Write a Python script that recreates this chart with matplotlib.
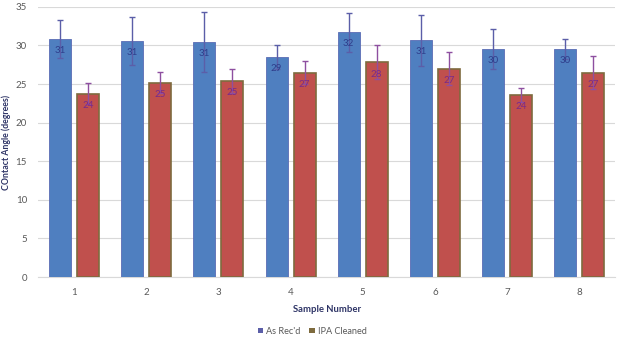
import matplotlib
matplotlib.use("Agg")
import matplotlib.pyplot as plt
import numpy as np
from matplotlib.patches import Patch

plt.rcParams['font.family'] = ['Lato', 'DejaVu Sans']

samples = ["1", "2", "3", "4", "5", "6", "7", "8"]
as_recd = [30.85, 30.55, 30.5, 28.5, 31.7, 30.7, 29.5, 29.6]
as_recd_err = [2.5, 3.1, 3.9, 1.5, 2.5, 3.3, 2.6, 1.3]
ipa = [23.76, 25.2, 25.4, 26.5, 27.8, 27.0, 23.6, 26.5]
ipa_err = [1.4, 1.35, 1.5, 1.5, 2.2, 2.1, 0.9, 2.2]
series_names = ["As Rec'd", "IPA Cleaned"]

fig = plt.figure(figsize=(6.24, 3.45), dpi=100)
ax = fig.add_axes([0.061, 0.197, 0.925, 0.783])

x = np.arange(1, len(samples) + 1)
w = 0.305
off = 0.194

ax.bar(x - off, as_recd, w, color='#4F7FC0', edgecolor='#5A6CB5', linewidth=0.6,
       yerr=as_recd_err, error_kw=dict(ecolor='#5B5EA8', elinewidth=1.0, capsize=2.5, capthick=1.0),
       label=series_names[0], zorder=3)
ax.bar(x + off, ipa, w, color='#C0504D', edgecolor='#7E6B3E', linewidth=1.2,
       yerr=ipa_err, error_kw=dict(ecolor='#8E4FA0', elinewidth=1.0, capsize=2.5, capthick=1.0),
       label=series_names[1], zorder=3)

for xi, v in zip(x - off, as_recd):
    ax.text(xi, v - 1.5, f"{int(v + 0.5):d}", ha='center', va='center', fontsize=7, color='#2F3E8C', zorder=5)
for xi, v in zip(x + off, ipa):
    ax.text(xi, v - 1.5, f"{int(v + 0.5):d}", ha='center', va='center', fontsize=7, color='#7A2A8A', zorder=5)

ax.set_xlim(0.5, 8.5)
ax.set_ylim(0, 35)
ax.set_yticks(np.arange(0, 36, 5))
ax.set_xticks(x)
ax.set_xticklabels(samples)
ax.grid(axis='y', color='#D9D9D9', linewidth=0.8, zorder=0)
for s in ['top', 'right', 'left']:
    ax.spines[s].set_visible(False)
ax.spines['bottom'].set_color('#D9D9D9')
ax.tick_params(axis='both', length=0, labelsize=7, colors='#595959', pad=8)
ax.tick_params(axis='y', pad=8)

ax.set_xlabel("Sample Number", fontsize=6.8, fontweight='bold', color='#2E3466', labelpad=6)
ax.set_ylabel("COntact Angle (degrees)", fontsize=6.3, fontweight='bold', color='#2E3466')
ax.yaxis.set_label_coords(-0.047, 0.5)

handles = [Patch(facecolor='#5B5EA8', edgecolor='none'), Patch(facecolor='#7E6B3E', edgecolor='none')]
fig.legend(handles, series_names, loc='center', bbox_to_anchor=(0.5, 0.04), ncol=2, frameon=False,
           fontsize=6.6, handlelength=0.6, handleheight=0.6, handletextpad=0.3, columnspacing=1.0,
           labelcolor='#595959')

fig.savefig("out.png", dpi=100)
